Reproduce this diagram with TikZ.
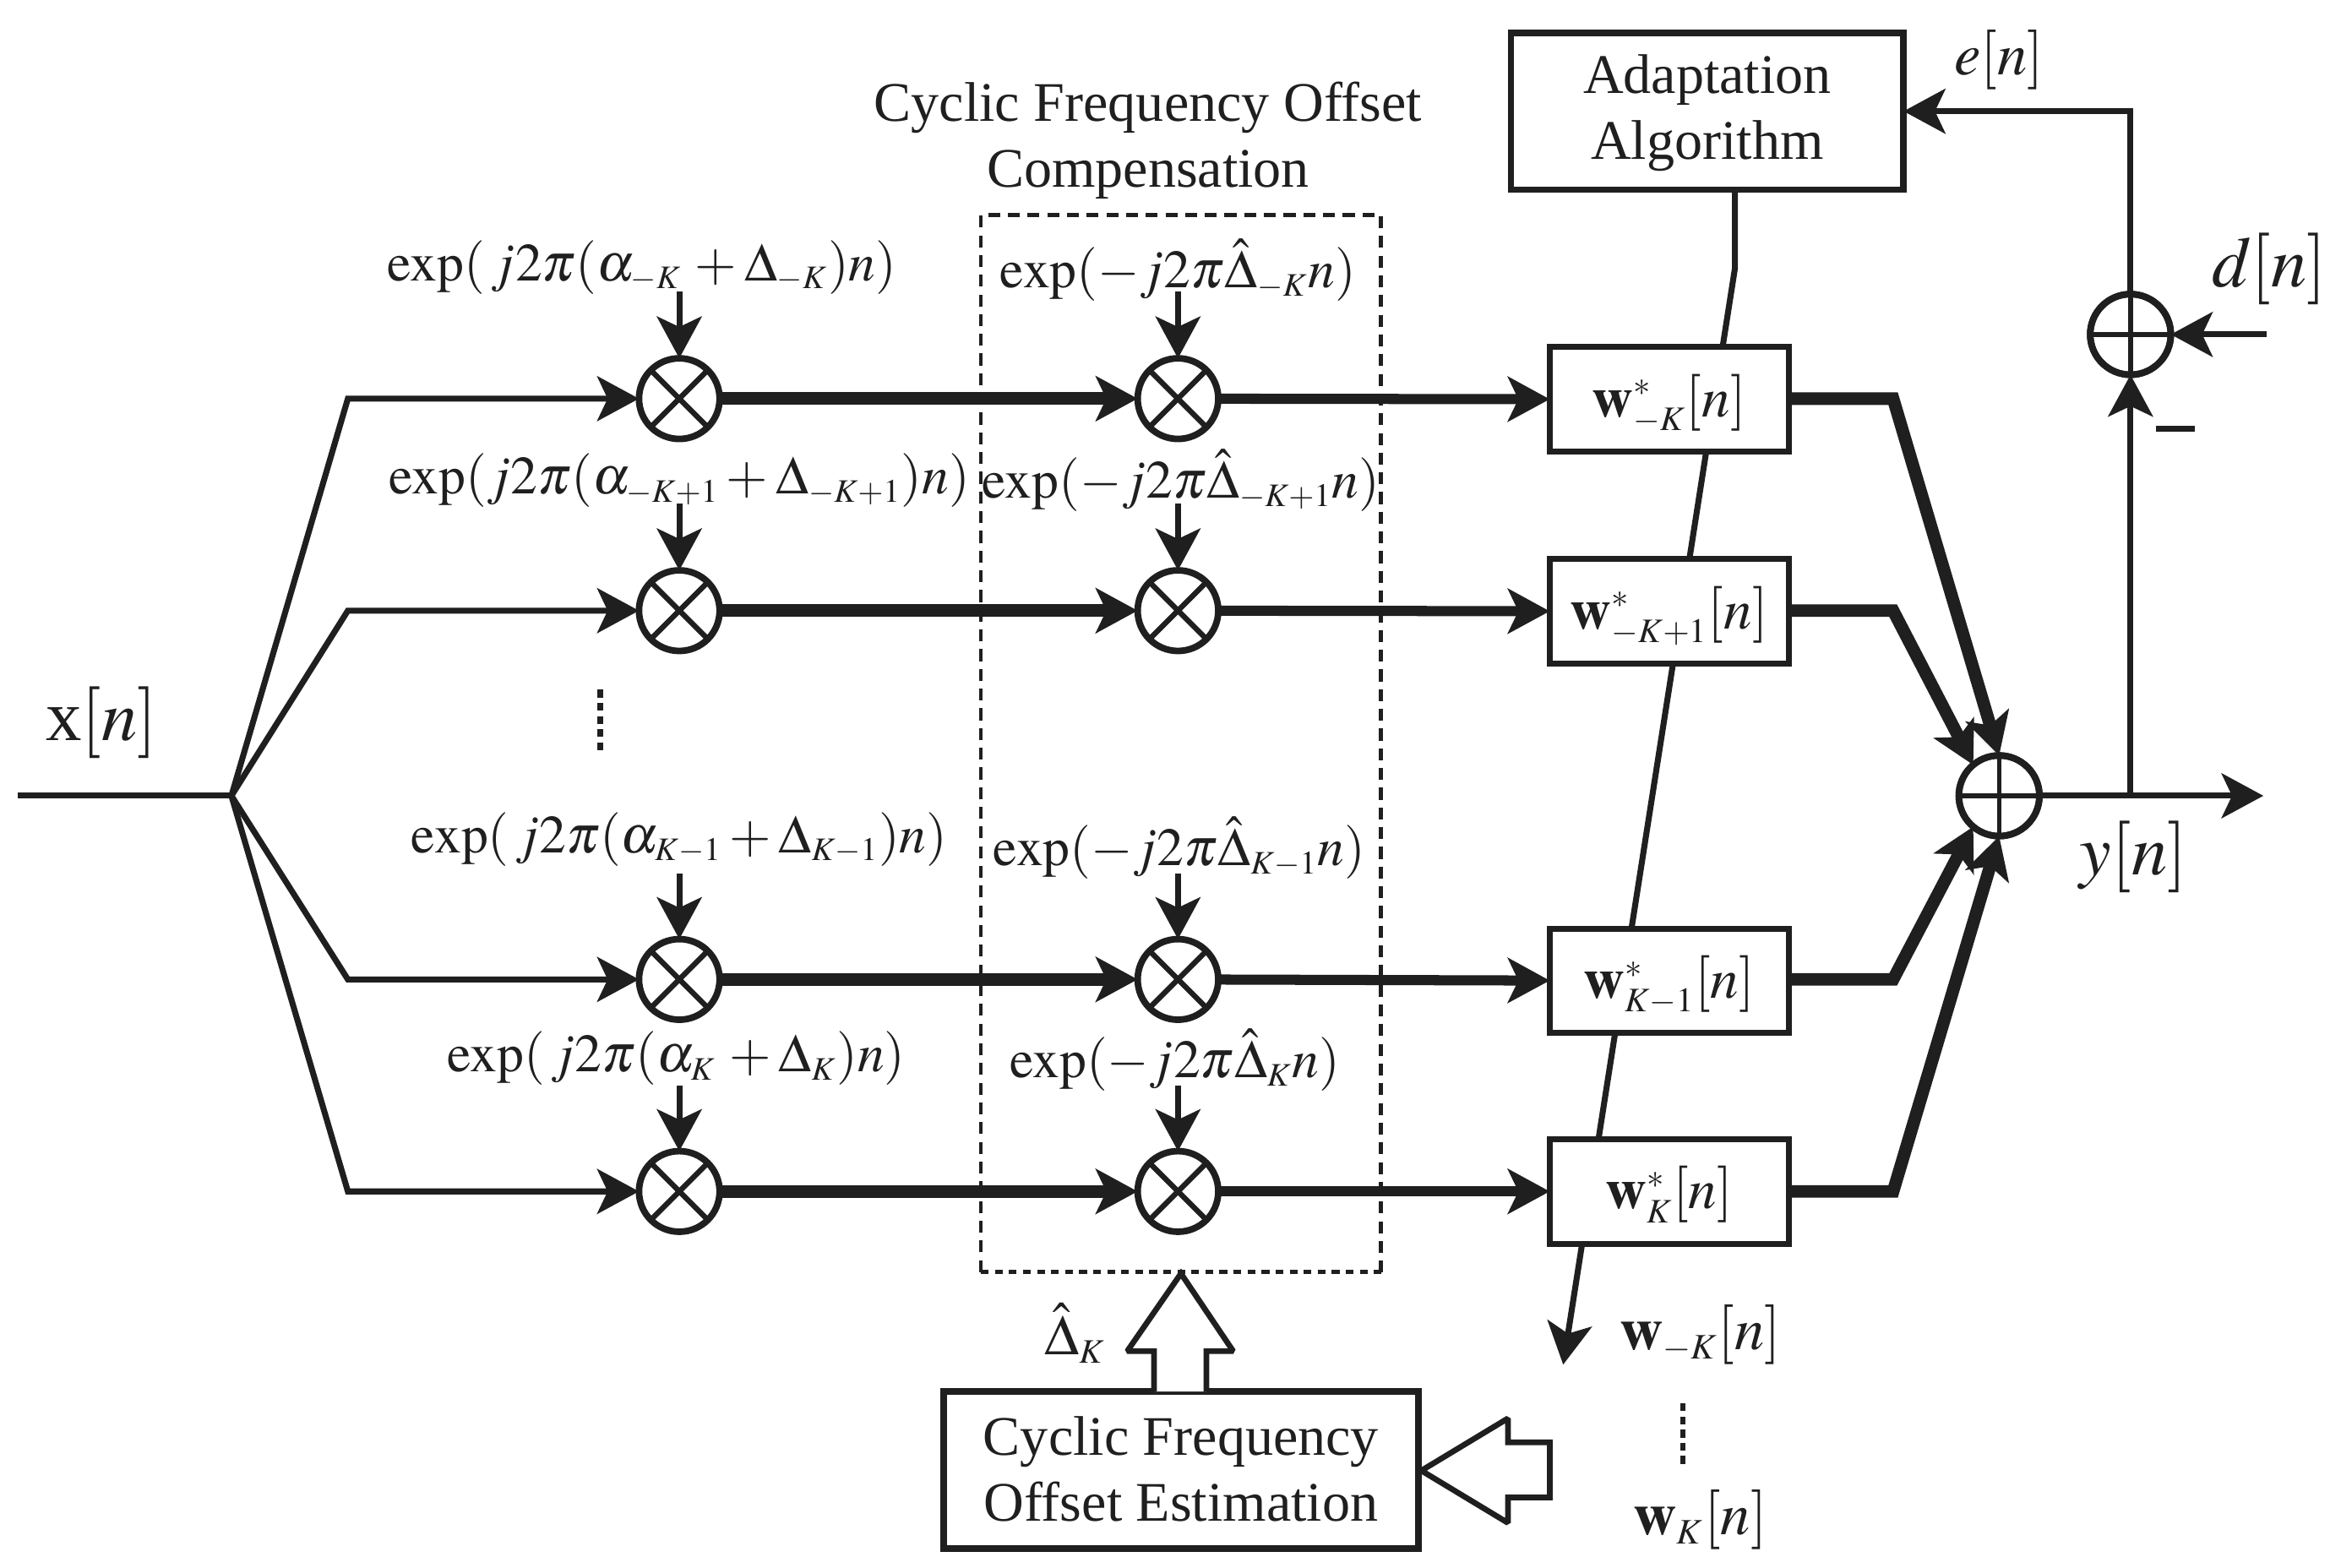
\documentclass[tikz,border=0pt]{standalone}
\usepackage{mathptmx}
\usepackage[no-math]{fontspec}
\setmainfont{Liberation Serif}
\DeclareMathSizes{18}{18}{11}{9}
\DeclareMathSizes{18.7}{18.7}{12}{9}
\DeclareMathSizes{19}{19}{11.5}{9}
\DeclareMathSizes{20}{20}{12}{9}
\DeclareMathSizes{24}{24}{14}{10}
\usetikzlibrary{arrows.meta,backgrounds}
\tikzset{
  x=0.5pt,y=-0.5pt,
  ink/.style={color=black!88},
  tip/.style={-{Stealth[length=14pt,width=15pt,inset=3.5pt]}},
  thin line/.style={ink,line width=2pt,line join=miter,tip},
  thick line/.style={ink,line width=4.2pt,line join=miter,tip},
  plain line/.style={ink,line width=2pt},
  bare/.style={inner sep=0pt,outer sep=0pt,text=black!88,font=\fontsize{18.7}{22}\selectfont,align=center},
  phase/.style={bare,font=\fontsize{18}{22}\selectfont},
  weight/.style={bare,font=\fontsize{19}{22}\selectfont},
  big label/.style={bare,font=\fontsize{24}{26}\selectfont},
  mult/.style={circle,draw=black!88,fill=white,line width=2.2pt,minimum size=27pt,inner sep=0pt,outer sep=0pt,
    path picture={\draw[line width=1.8pt,black!88]
      (path picture bounding box.north west)--(path picture bounding box.south east)
      (path picture bounding box.north east)--(path picture bounding box.south west);}},
  adder/.style={circle,draw=black!88,line width=2.2pt,minimum size=27pt,inner sep=0pt,outer sep=0pt,
    path picture={\draw[line width=1.6pt,black!88]
      (path picture bounding box.north)--(path picture bounding box.south)
      (path picture bounding box.east)--(path picture bounding box.west);}},
  wbox/.style={weight,draw=black!88,fill=white,line width=2pt,minimum width=80pt,minimum height=35pt,text height=15pt,text depth=3.5pt},
  bigbox/.style={draw=black!88,fill=white,line width=2.2pt,inner sep=0pt,outer sep=0pt},
  hollow/.style={ink,fill=white,line width=1.9pt,line join=miter,miter limit=2},
  sidedash/.style={ink,line width=1.3pt,dash pattern=on 4pt off 2.6pt},
  botdash/.style={ink,line width=1.5pt,dash pattern=on 2.6pt off 2.1pt},
  vdots/.style={ink,line width=1.8pt,dash pattern=on 2.6pt off 1.8pt},
}
\begin{document}
\begin{tikzpicture}
\useasboundingbox (0,0) rectangle (1568,1050.2);
% multipliers
\node[mult] (m11) at (455,267) {};
\node[mult] (m12) at (789,267) {};
\node[mult] (m21) at (455,409) {};
\node[mult] (m22) at (789,409) {};
\node[mult] (m31) at (455,656) {};
\node[mult] (m32) at (789,656) {};
\node[mult] (m41) at (455,798) {};
\node[mult] (m42) at (789,798) {};
% adders
\node[adder,fill=white] (s) at (1339,533) {};
\node[adder,fill=white] (e) at (1427,224) {};
% blocks
\node[bigbox,minimum width=131.5pt,minimum height=52.5pt] (adapt) at (1143.5,74.5) {};
\node[bigbox,minimum width=159pt,minimum height=52.5pt] (est) at (791,984.5) {};
\node[bare] (adaptlabel) at (1143.5,75.5) {Adaptation\\Algorithm};
\node[bare] (estlabel) at (791,984) {Cyclic Frequency\\Offset Estimation};
% coordinates
\coordinate (in) at (12,533);
\coordinate (fork) at (155,533);
\coordinate (b1) at (233,267);
\coordinate (b2) at (233,409);
\coordinate (b3) at (233,656);
\coordinate (b4) at (233,798);
\coordinate (c1) at (1268,267);
\coordinate (c2) at (1268,409);
\coordinate (c3) at (1268,656);
\coordinate (c4) at (1268,798);
\coordinate (out) at (1516,533);
\coordinate (tap) at (1427,533);
\coordinate (corner) at (1427,74.5);
\coordinate (dsrc) at (1518,224);
\coordinate (wa) at (1162,127);
\coordinate (wb) at (1162,180);
\coordinate (wc) at (1047,914);
\coordinate (ma) at (1444,287);
\coordinate (mb) at (1470,287);
\coordinate (d1a) at (402,462);
\coordinate (d1b) at (402,505);
\coordinate (d2a) at (1127,940);
\coordinate (d2b) at (1127,983);
\coordinate (dtl) at (657,144);
\coordinate (dtr) at (925,144);
\coordinate (dbl) at (657,852);
\coordinate (dbr) at (925,852);
% weight-vector line behind the boxes
\draw[plain line,tip] (wa)--(wb)--(wc);
% weights
\node[wbox] (w1) at (1118,267.5) {$\mathbf{w}^{*}_{-K}[n]$};
\node[wbox] (w2) at (1118,409.5) {$\mathbf{w}^{*}_{-K+1}[n]$};
\node[wbox] (w3) at (1118,657) {$\mathbf{w}^{*}_{K-1}[n]$};
\node[wbox] (w4) at (1118,798) {$\mathbf{w}^{*}_{K}[n]$};
% input fork
\draw[plain line] (in)--(fork);
\draw[thin line] (fork)--(b1)--(m11);
\draw[thin line] (fork)--(b2)--(m21);
\draw[thin line] (fork)--(b3)--(m31);
\draw[thin line] (fork)--(b4)--(m41);
% thick paths
\draw[thick line] (m11)--(m12);
\draw[thick line] (m21)--(m22);
\draw[thick line] (m31)--(m32);
\draw[thick line] (m41)--(m42);
\draw[thick line,line width=3.4pt] (m12)--(w1);
\draw[thick line,line width=3.4pt] (m22)--(w2);
\draw[thick line,line width=3.4pt] (m32)--(w3);
\draw[thick line,line width=3.4pt] (m42)--(w4);
\draw[thick line] (w1.east|-c1)--(c1)--(s.north);
\draw[thick line] (w2.east|-c2)--(c2)--(s.130);
\draw[thick line] (w3.east|-c3)--(c3)--(s.230);
\draw[thick line] (w4.east|-c4)--(c4)--(s.south);
% output and feedback
\draw[thin line] (s)--(out);
\draw[thin line] (tap)--(e);
\draw[thin line] (e)--(corner)--(adapt.east);
\draw[thin line] (dsrc)--(e);
\draw[plain line] (ma)--(mb);
% redraw adder rims on top
\node[adder] at (s) {};
\node[adder] at (e) {};
% dashed frame
\draw[sidedash] (dbl)--(dtl)--(dtr)--(dbr);
\draw[botdash] (dbl)--(dbr);
% titles
\node[bare] (t1) at (769,94) {Cyclic Frequency Offset\\Compensation};
% phase labels
\node[phase] (l11) at (430,179) {$\exp(\,j2\pi(\alpha_{-K}\,+\Delta_{-K})n)$};
\node[phase] (l12) at (789,181) {$\exp(-j2\pi\hat{\Delta}_{-K}n)$};
\node[phase] (l21) at (455,322) {$\exp(j2\pi(\alpha_{-K+1}+\Delta_{-K+1})n)$};
\node[phase] (l22) at (791,322) {$\exp(-j2\pi\hat{\Delta}_{-K+1}n)$};
\node[phase] (l31) at (455,562) {$\exp(\,j2\pi(\alpha_{K-1}+\Delta_{K-1})n)$};
\node[phase] (l32) at (790,568) {$\exp(-j2\pi\hat{\Delta}_{K-1}n)$};
\node[phase] (l41) at (453,709) {$\exp(\,j2\pi(\alpha_{K}\,+\Delta_{K})n)$};
\node[phase] (l42) at (787,710) {$\exp(-j2\pi\hat{\Delta}_{K}n)$};
\coordinate (p11) at (455,195);
\coordinate (p12) at (789,195);
\coordinate (p21) at (455,337);
\coordinate (p22) at (789,337);
\coordinate (p31) at (455,585);
\coordinate (p32) at (789,585);
\coordinate (p41) at (455,727);
\coordinate (p42) at (789,727);
\draw[thin line] (p11)--(m11);
\draw[thin line] (p12)--(m12);
\draw[thin line] (p21)--(m21);
\draw[thin line] (p22)--(m22);
\draw[thin line] (p31)--(m31);
\draw[thin line] (p32)--(m32);
\draw[thin line] (p41)--(m41);
\draw[thin line] (p42)--(m42);
% hollow arrows
\draw[hollow] (773,932)--(773,905)--(755,905)--(791,853)--(826,905)--(808,905)--(808,932);
\draw[hollow] (1038,966)--(1010,966)--(1010,950)--(952,985)--(1010,1020)--(1010,1003)--(1038,1003)--cycle;
% other labels
\node[big label] (lx) at (68,484) {x$[n]$};
\node[bare,font=\fontsize{20}{22}\selectfont] (le) at (1339,40) {$e[n]$};
\node[big label] (ld) at (1520,180) {$d[n]$};
\node[big label] (ly) at (1429,574) {$y[n]$};
\node[weight] (ldk) at (720,893) {$\hat{\Delta}_{K}$};
\node[bare,font=\fontsize{20}{22}\selectfont] (lw1) at (1139,894) {$\mathbf{w}_{-K}[n]$};
\node[bare,font=\fontsize{20}{22}\selectfont] (lw2) at (1139,1018) {$\mathbf{w}_{K}[n]$};
\draw[vdots] (d1a)--(d1b);
\draw[vdots] (d2a)--(d2b);
\end{tikzpicture}
\end{document}
